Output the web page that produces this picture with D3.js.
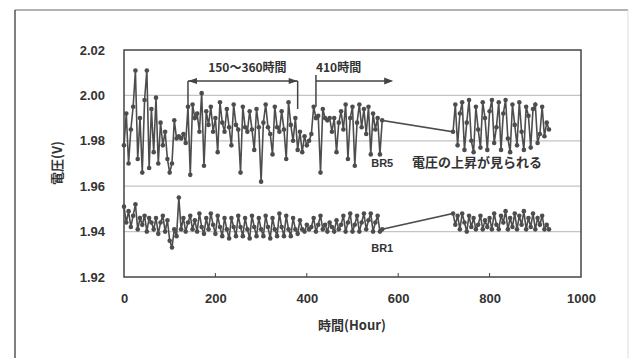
<!DOCTYPE html>
<html lang="ja">
<head>
<meta charset="utf-8">
<title>電圧の推移</title>
<script src="https://cdn.jsdelivr.net/npm/d3@7/dist/d3.min.js"></script>
<style>
  body{ margin:0; background:#fff; }
  svg{ display:block; }
  text{ font-family:"Liberation Sans", Arial, "Noto Sans CJK JP", sans-serif; fill:#333; }
  .jp{ font-family:"Noto Sans CJK JP", sans-serif; }
</style>
</head>
<body>
<svg id="chart" width="633" height="358"></svg>
<script>
// hours (sampled every 5h), gap between 565 and 720
var hours = [0,5,10,15,20,25,30,35,40,45,50,55,60,65,70,75,80,85,90,95,
  100,105,110,115,120,125,130,135,140,145,150,155,160,165,170,175,180,185,190,195,
  200,205,210,215,220,225,230,235,240,245,250,255,260,265,270,275,280,285,290,295,
  300,305,310,315,320,325,330,335,340,345,350,355,360,365,370,375,380,385,390,395,
  400,405,410,415,420,425,430,435,440,445,450,455,460,465,470,475,480,485,490,495,
  500,505,510,515,520,525,530,535,540,545,550,555,560,565,
  720,725,730,735,740,745,750,755,760,765,770,775,780,785,790,795,
  800,805,810,815,820,825,830,835,840,845,850,855,860,865,870,875,880,885,890,895,
  900,905,910,915,920,925,930];

var br5 = [1.978,1.992,1.970,1.985,1.995,2.011,1.972,1.990,1.966,1.998,
  2.011,1.968,1.994,1.975,1.999,1.970,1.988,1.978,1.984,1.972,
  1.966,1.970,1.989,1.981,1.982,1.981,1.983,1.979,1.995,1.965,
  1.996,1.990,1.992,1.984,2.001,1.969,1.993,1.987,1.995,1.984,
  1.990,1.975,1.997,1.988,1.984,1.994,1.986,1.978,1.996,1.987,
  1.985,1.966,1.995,1.986,1.984,1.993,1.985,1.976,1.994,1.986,
  1.962,1.988,1.996,1.986,1.983,1.974,1.995,1.986,1.984,1.993,
  1.985,1.972,1.997,1.987,1.980,1.990,1.976,1.984,1.975,1.982,
  1.978,1.980,1.983,1.995,1.990,1.991,1.966,1.994,1.990,1.989,
  1.990,1.984,1.990,1.975,1.988,1.993,1.985,1.996,1.972,1.990,
  1.995,1.969,1.988,1.996,1.986,1.994,1.983,1.995,1.974,1.992,
  1.985,1.990,1.974,1.989,
  1.984,1.996,1.978,1.992,1.997,1.976,1.988,1.998,1.980,1.975,
  1.995,1.985,1.977,1.997,1.990,1.976,1.993,1.998,1.979,1.986,
  1.997,1.976,1.992,1.998,1.981,1.975,1.996,1.987,1.978,1.997,
  1.984,1.976,1.995,1.991,1.977,1.994,1.996,1.979,1.983,1.995,
  1.982,1.988,1.985];

var br1 = [1.951,1.944,1.949,1.942,1.947,1.952,1.941,1.946,1.943,1.947,
  1.940,1.946,1.944,1.941,1.946,1.939,1.944,1.947,1.940,1.945,
  1.936,1.933,1.941,1.938,1.955,1.941,1.946,1.940,1.944,1.947,
  1.941,1.945,1.940,1.948,1.942,1.939,1.946,1.941,1.948,1.943,
  1.939,1.947,1.942,1.938,1.946,1.941,1.937,1.946,1.942,1.938,
  1.947,1.942,1.938,1.946,1.941,1.937,1.947,1.942,1.938,1.946,
  1.941,1.938,1.947,1.942,1.937,1.946,1.941,1.938,1.948,1.942,
  1.938,1.947,1.941,1.938,1.946,1.941,1.939,1.945,1.941,1.940,
  1.943,1.941,1.942,1.946,1.940,1.943,1.947,1.941,1.943,1.940,
  1.944,1.942,1.940,1.945,1.941,1.943,1.947,1.940,1.944,1.948,
  1.940,1.943,1.947,1.940,1.944,1.948,1.941,1.945,1.948,1.940,
  1.944,1.947,1.940,1.941,
  1.948,1.943,1.947,1.941,1.948,1.944,1.940,1.947,1.942,1.946,
  1.941,1.943,1.947,1.941,1.945,1.942,1.946,1.941,1.948,1.943,
  1.941,1.947,1.944,1.949,1.941,1.946,1.942,1.948,1.941,1.947,
  1.943,1.949,1.941,1.946,1.942,1.948,1.941,1.946,1.943,1.947,
  1.941,1.943,1.941];

var xTicks = [0,200,400,600,800,1000];
var yTicks = [1.92,1.94,1.96,1.98,2.00,2.02];

var svg = d3.select("#chart");

// outer chart frame
svg.append("line").attr("x1",15).attr("y1",10).attr("x2",628).attr("y2",10)
   .attr("stroke","#999").attr("stroke-width",1.5);
svg.append("line").attr("x1",15).attr("y1",10).attr("x2",15).attr("y2",358)
   .attr("stroke","#555").attr("stroke-width",1.5);
svg.append("line").attr("x1",628).attr("y1",10).attr("x2",628).attr("y2",358)
   .attr("stroke","#ddd").attr("stroke-width",1);

var pL = 124, pR = 581, pT = 50, pB = 277;

var x = d3.scaleLinear().domain([0,1000]).range([pL,pR]);
var y = d3.scaleLinear().domain([1.92,2.02]).range([pB,pT]);

// gridlines
svg.append("g").selectAll("line").data(yTicks.slice(1,5)).enter().append("line")
   .attr("x1",pL).attr("x2",pR)
   .attr("y1",d => y(d)).attr("y2",d => y(d))
   .attr("stroke","#c4c4c4").attr("stroke-width",1.2);

// axes
var yAxis = d3.axisLeft(y).tickValues(yTicks).tickFormat(d3.format(".2f")).tickSize(0).tickPadding(19);
var xAxis = d3.axisBottom(x).tickValues(xTicks).tickFormat(d3.format("d")).tickSize(0).tickPadding(17);

var gy = svg.append("g").attr("transform","translate(" + pL + ",0)").call(yAxis);
var gx = svg.append("g").attr("transform","translate(0," + pB + ")").call(xAxis);
gy.select(".domain").remove();
gx.select(".domain").remove();
svg.selectAll(".tick text").attr("font-size",13).attr("font-weight","bold").attr("fill","#333")
   .attr("font-family","'Liberation Sans', Arial, sans-serif");

// small inward ticks on x axis
svg.append("g").selectAll("line").data(xTicks.slice(1,5)).enter().append("line")
   .attr("x1",d => x(d)).attr("x2",d => x(d))
   .attr("y1",pB).attr("y2",pB-4)
   .attr("stroke","#444").attr("stroke-width",1);

// plot frame
svg.append("rect").attr("x",pL).attr("y",pT)
   .attr("width",pR-pL).attr("height",pB-pT)
   .attr("fill","none").attr("stroke","#444").attr("stroke-width",1.5);

// series
var line = d3.line().x((d,i) => x(hours[i])).y(d => y(d));
[br5, br1].forEach(function(s){
  svg.append("path").datum(s).attr("d",line)
     .attr("fill","none").attr("stroke","#4d4d4d").attr("stroke-width",1.6);
  svg.append("g").selectAll("circle").data(s).enter().append("circle")
     .attr("cx",(d,i) => x(hours[i])).attr("cy",d => y(d))
     .attr("r",2.3).attr("fill","#4d4d4d");
});

// axis titles
svg.append("text").attr("class","jp").attr("x",352).attr("y",330)
   .attr("text-anchor","middle").attr("font-size",13).attr("font-weight","bold")
   .text("時間(Hour)");
svg.append("text").attr("class","jp")
   .attr("transform","translate(62,163) rotate(-90)")
   .attr("text-anchor","middle").attr("font-size",13).attr("font-weight","bold")
   .text("電圧(V)");

// annotations
var ann = svg.append("g").attr("stroke","#444").attr("stroke-width",1.5).attr("fill","none");
var yb = 81;
ann.append("line").attr("x1",x(140)).attr("x2",x(140)).attr("y1",yb).attr("y2",y(1.995));
ann.append("line").attr("x1",x(380)).attr("x2",x(380)).attr("y1",yb).attr("y2",y(1.994));
ann.append("line").attr("x1",x(140)).attr("x2",x(380)).attr("y1",yb).attr("y2",yb);
ann.append("line").attr("x1",x(420)).attr("x2",x(420)).attr("y1",yb - 6).attr("y2",y(1.995));
ann.append("line").attr("x1",x(420)).attr("x2",x(585)).attr("y1",yb).attr("y2",yb);
// arrow heads
var heads = svg.append("g").attr("fill","#444");
heads.append("path").attr("d","M" + x(140) + "," + yb + "l9,-3v6z");
heads.append("path").attr("d","M" + x(380) + "," + yb + "l-9,-3v6z");
heads.append("path").attr("d","M" + x(589) + "," + yb + "l-9,-3.5v7z");

svg.append("text").attr("class","jp").attr("x",x(270)).attr("y",72)
   .attr("text-anchor","middle").attr("font-size",12).attr("font-weight","bold").text("150〜360時間");
svg.append("text").attr("class","jp").attr("x",x(420)).attr("y",72)
   .attr("font-size",12).attr("font-weight","bold").text("410時間");
svg.append("text").attr("x",x(565)).attr("y",167)
   .attr("text-anchor","middle").attr("font-size",11).attr("font-weight","bold").text("BR5");
svg.append("text").attr("class","jp").attr("x",x(630)).attr("y",167)
   .attr("font-size",13).attr("font-weight","bold").text("電圧の上昇が見られる");
svg.append("text").attr("x",x(565)).attr("y",252)
   .attr("text-anchor","middle").attr("font-size",11).attr("font-weight","bold").text("BR1");
</script>
</body>
</html>
